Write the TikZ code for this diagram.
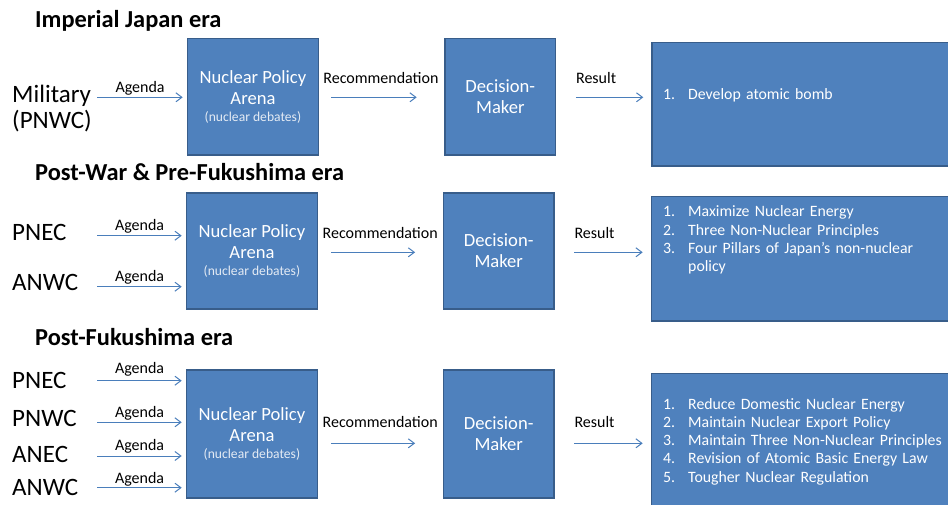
\documentclass[tikz,border=0pt]{standalone}
\usepackage{fontspec}
\setmainfont{Carlito}
\usetikzlibrary{arrows.meta}
\definecolor{boxblue}{HTML}{4F81BD}
\definecolor{boxedge}{HTML}{385D8A}
\definecolor{arrowblue}{HTML}{4A7EBB}
\definecolor{softwhite}{HTML}{E4EBF4}
\newcommand{\itm}[2]{\makebox[25pt][l]{#1}#2}
\newcommand{\dnote}[1]{{\fontsize{13.6}{16}\selectfont\color{softwhite}#1}}
\tikzset{
  era/.style={anchor=base west, inner sep=0pt, font=\fontsize{24.4}{28}\selectfont\bfseries},
  actor/.style={anchor=base west, inner sep=0pt, text width=85pt, align=left, font=\fontsize{25}{26}\selectfont},
  arena/.style={draw=boxedge, fill=boxblue, line width=1.5pt, text=white, anchor=north west,
    minimum width=131pt, align=center, inner sep=0pt, font=\fontsize{18.6}{21}\selectfont},
  decider/.style={arena, minimum width=110.5pt},
  outcome/.style={draw=boxedge, fill=boxblue, line width=1.5pt, anchor=north west, minimum width=320pt},
  items/.style={anchor=base west, inner sep=0pt, text=white, text width=300pt, align=left,
    font=\fontsize{15.8}{18.3}\selectfont},
  flow/.style={draw=arrowblue, line width=1pt, -{Straight Barb[length=6pt,width=9pt]}},
  lbl/.style={anchor=base, inner sep=0pt, text=black, font=\fontsize{16}{18}\selectfont},
}
\begin{document}
\begin{tikzpicture}[x=1pt, y=-1pt]
\useasboundingbox (0,0) rectangle (948,504);
\clip (0,0) rectangle (948,504);

% Imperial Japan era
\node[era] (t1) at (35,27.3) {Imperial Japan era};
\node[actor] (mil) at (12,102.3) {Military\\(PNWC)};
\node[arena, minimum height=116.6pt] (npa1) at (186.7,37.7) {Nuclear Policy\\Arena\\[-3.6pt]\dnote{(nuclear debates)}};
\node[decider, minimum height=116.6pt] (dm1) at (444.3,37.7) {Decision-\\Maker};
\node[outcome, minimum height=123.3pt] (res1) at (651,41.7) {};
\node[items] (li1) at (663,99.3) {\itm{1.}{Develop atomic bomb}};
\coordinate (lane1) at (0,97.3);
\draw[flow, shorten >=4pt] ([yshift=5pt]mil.base east) -- ([yshift=5pt]mil.base east -| npa1.west)
  node[lbl, midway, xshift=-2pt, yshift=5pt] {Agenda};
\draw[flow, shorten <=12pt, shorten >=27.6pt] (npa1.east |- lane1) -- (dm1.west |- lane1)
  node[lbl, pos=0, anchor=base west, xshift=3.7pt, yshift=14pt] {Recommendation};
\draw[flow, shorten <=19.5pt, shorten >=7.7pt] (dm1.east |- lane1) -- (res1.west |- lane1)
  node[lbl, pos=0, anchor=base west, xshift=19.3pt, yshift=14pt] {Result};

% Post-War & Pre-Fukushima era
\node[era] (t2) at (35,180) {Post-War \& Pre-Fukushima era};
\node[actor] (pnec2) at (12,240) {PNEC};
\node[actor] (anwc2) at (12,290.7) {ANWC};
\node[arena, minimum height=116pt] (npa2) at (185.7,192.3) {Nuclear Policy\\Arena\\[-3.6pt]\dnote{(nuclear debates)}};
\node[decider, minimum height=116pt] (dm2) at (442.7,192.3) {Decision-\\Maker};
\node[outcome, minimum height=124.3pt] (res2) at (650.7,195.7) {};
\node[items] (li2) at (663,216.7) {\itm{1.}{Maximize Nuclear Energy}\\
  \itm{2.}{Three Non-Nuclear Principles}\\
  \itm{3.}{Four Pillars of Japan’s non-nuclear}\\
  \itm{}{policy}};
\coordinate (lane2) at (0,252.3);
\draw[flow, shorten >=4pt] ([yshift=4.3pt]pnec2.base east) -- ([yshift=4.3pt]pnec2.base east -| npa2.west)
  node[lbl, midway, xshift=-2pt, yshift=5.7pt] {Agenda};
\draw[flow, shorten >=4pt] ([yshift=4pt]anwc2.base east) -- ([yshift=4pt]anwc2.base east -| npa2.west)
  node[lbl, midway, xshift=-2pt, yshift=5pt] {Agenda};
\draw[flow, shorten <=13pt, shorten >=27.6pt] (npa2.east |- lane2) -- (dm2.west |- lane2)
  node[lbl, pos=0, anchor=base west, xshift=4pt, yshift=14pt] {Recommendation};
\draw[flow, shorten <=19.5pt, shorten >=8pt] (dm2.east |- lane2) -- (res2.west |- lane2)
  node[lbl, pos=0, anchor=base west, xshift=19.3pt, yshift=14pt] {Result};

% Post-Fukushima era
\node[era] (t3) at (35,345) {Post-Fukushima era};
\node[actor] (pnec3) at (12,388.3) {PNEC};
\node[actor] (pnwc3) at (12,426.7) {PNWC};
\node[actor] (anec3) at (12,462.7) {ANEC};
\node[actor] (anwc3) at (12,495) {ANWC};
\node[arena, minimum height=128pt] (npa3) at (185.7,369.3) {Nuclear Policy\\Arena\\[-3.6pt]\dnote{(nuclear debates)}};
\node[decider, minimum height=128pt] (dm3) at (442.7,369.3) {Decision-\\Maker};
\node[outcome, minimum height=150pt] (res3) at (650.7,372.7) {};
\node[items] (li3) at (663,409) {\itm{1.}{Reduce Domestic Nuclear Energy}\\
  \itm{2.}{Maintain Nuclear Export Policy}\\
  \itm{3.}{Maintain Three Non-Nuclear Principles}\\
  \itm{4.}{Revision of Atomic Basic Energy Law}\\
  \itm{5.}{Tougher Nuclear Regulation}};
\coordinate (lane3) at (0,443.3);
\draw[flow, shorten >=4pt] ([yshift=7.6pt]pnec3.base east) -- ([yshift=7.6pt]pnec3.base east -| npa3.west)
  node[lbl, midway, xshift=-2pt, yshift=7.4pt] {Agenda};
\draw[flow, shorten >=4pt] ([yshift=4.4pt]pnwc3.base east) -- ([yshift=4.4pt]pnwc3.base east -| npa3.west)
  node[lbl, midway, xshift=-2pt, yshift=5pt] {Agenda};
\draw[flow, shorten >=4pt] ([yshift=6.7pt]anec3.base east) -- ([yshift=6.7pt]anec3.base east -| npa3.west)
  node[lbl, midway, xshift=-2pt, yshift=5.3pt] {Agenda};
\draw[flow, shorten >=4pt] ([yshift=7.3pt]anwc3.base east) -- ([yshift=7.3pt]anwc3.base east -| npa3.west)
  node[lbl, midway, xshift=-2pt, yshift=4.4pt] {Agenda};
\draw[flow, shorten <=13pt, shorten >=27.6pt] (npa3.east |- lane3) -- (dm3.west |- lane3)
  node[lbl, pos=0, anchor=base west, xshift=4pt, yshift=16.3pt] {Recommendation};
\draw[flow, shorten <=19.5pt, shorten >=8pt] (dm3.east |- lane3) -- (res3.west |- lane3)
  node[lbl, pos=0, anchor=base west, xshift=19.3pt, yshift=16pt] {Result};
\end{tikzpicture}
\end{document}
